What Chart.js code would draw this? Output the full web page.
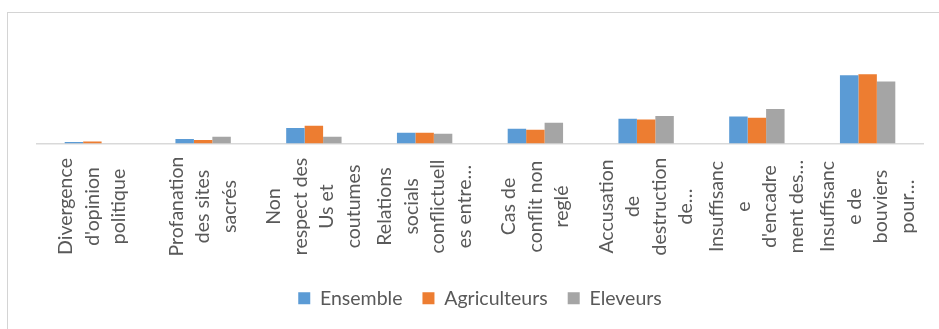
<!DOCTYPE html>
<html>
<head>
<meta charset="utf-8">
<script src="https://cdn.jsdelivr.net/npm/chart.js@4/dist/chart.umd.min.js"></script>
<style>
  html, body { margin: 0; padding: 0; background: #ffffff; }
  #wrap { position: relative; width: 939px; height: 329px; overflow: hidden; }
  #frame { position: absolute; left: 7px; top: 12px; width: 960px; height: 340px; border: 1px solid #d4d4d4; box-sizing: border-box; pointer-events: none; }
  canvas { position: absolute; left: 0; top: 0; }
</style>
</head>
<body>
<div id="wrap">
  <canvas id="c" width="939" height="329"></canvas>
  <div id="frame"></div>
</div>
<script>
const categories = [
  ["Divergence", "d'opinion", "politique"],
  ["Profanation", "des sites", "sacrés"],
  ["Non", "respect des", "Us et", "coutumes"],
  ["Relations", "socials", "conflictuell", "es entre…"],
  ["Cas de", "conflit non", "reglé"],
  ["Accusation", "de", "destruction", "de…"],
  ["Insuffisanc", "e", "d'encadre", "ment des…"],
  ["Insuffisanc", "e de", "bouviers", "pour…"]
];
const seriesNames = ["Ensemble", "Agriculteurs", "Eleveurs"];
const ensemble = [0.9, 2.7, 9.3, 6.5, 8.9, 14.8, 16.2, 40.8];
const agriculteurs = [1.2, 2.1, 10.7, 6.5, 8.3, 14.4, 15.4, 41.5];
const eleveurs = [0, 4.1, 4.1, 5.9, 12.4, 16.4, 20.6, 37.2];
const colors = ["#5B9BD5", "#ED7D31", "#A5A5A5"];

const FONT = "Lato";
const FONT_SIZE = 19.5;
const TEXT_COLOR = "#595959";

const rotatedLabels = {
  id: "rotatedLabels",
  afterDraw(chart) {
    const scale = chart.scales.x;
    const ctx = chart.ctx;
    const lh = 26.5;
    const cy = chart.chartArea.bottom + 63;
    ctx.save();
    ctx.fillStyle = TEXT_COLOR;
    ctx.font = FONT_SIZE + "px " + FONT;
    ctx.textAlign = "center";
    ctx.textBaseline = "middle";
    categories.forEach((lines, i) => {
      const x = scale.getPixelForTick(i);
      const n = lines.length;
      lines.forEach((line, j) => {
        const xj = x + (j - (n - 1) / 2) * lh;
        ctx.save();
        ctx.translate(xj, cy);
        ctx.rotate(-Math.PI / 2);
        ctx.fillText(line, 0, 0);
        ctx.restore();
      });
    });
    ctx.restore();
  }
};

new Chart(document.getElementById("c"), {
  type: "bar",
  data: {
    labels: categories,
    datasets: [
      { label: seriesNames[0], data: ensemble, backgroundColor: colors[0] },
      { label: seriesNames[1], data: agriculteurs, backgroundColor: colors[1] },
      { label: seriesNames[2], data: eleveurs, backgroundColor: colors[2] }
    ]
  },
  options: {
    responsive: false,
    devicePixelRatio: 1,
    animation: false,
    layout: { padding: { left: 37, right: 16, top: 60, bottom: 11 } },
    datasets: { bar: { categoryPercentage: 0.5, barPercentage: 1.0 } },
    scales: {
      x: {
        grid: { display: false },
        border: { display: true, color: "#d9d9d9", width: 1.5 },
        ticks: { display: false },
        afterFit: (s) => { s.height = 125; }
      },
      y: {
        display: false,
        min: 0,
        max: 50
      }
    },
    plugins: {
      legend: {
        position: "bottom",
        align: "center",
        labels: {
          boxWidth: 12,
          boxHeight: 12,
          padding: 20,
          color: TEXT_COLOR,
          font: { family: FONT, size: FONT_SIZE }
        }
      },
      tooltip: { enabled: false }
    }
  },
  plugins: [rotatedLabels]
});
</script>
</body>
</html>
